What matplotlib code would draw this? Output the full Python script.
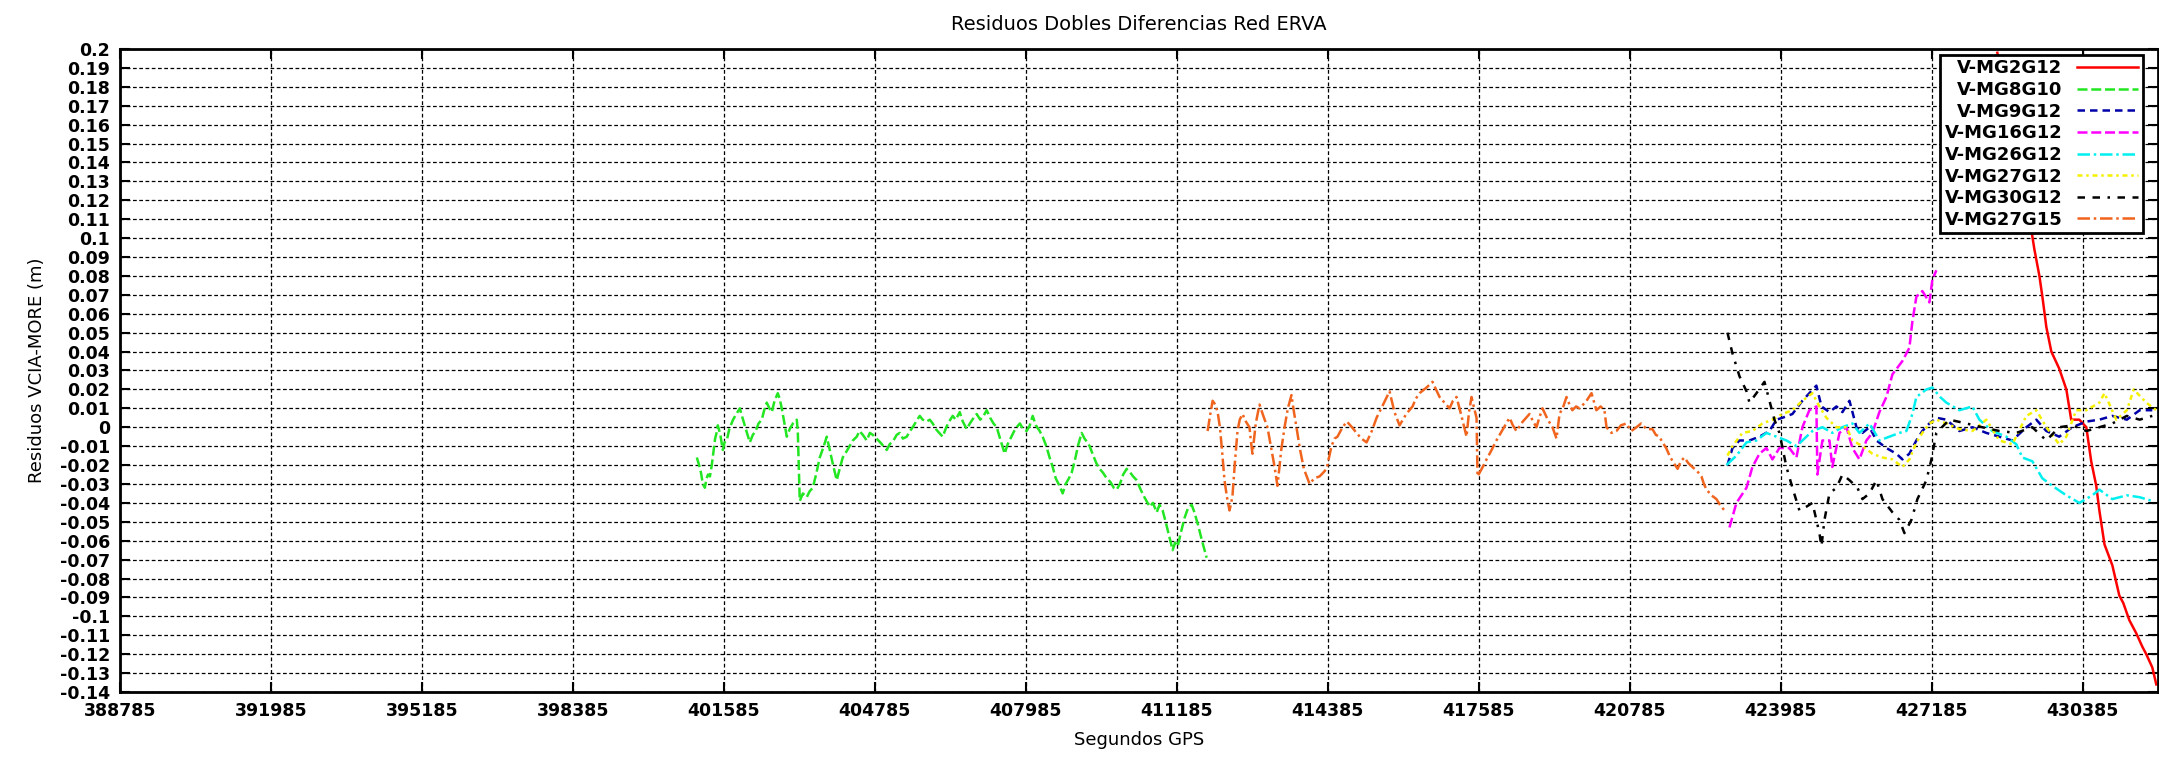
import matplotlib
matplotlib.use("Agg")
import matplotlib.pyplot as plt
import numpy as np

plt.rcParams['font.family'] = 'DejaVu Sans'

# residuos de dobles diferencias (segundos GPS, metros)
t_mg2g12 = [428580, 428686, 428831, 428900, 428982, 429109, 429258, 429365, 429471, 429540,
            429618, 429724, 429891, 430042, 430145, 430317, 430466, 430569, 430676, 430742,
            430851, 431017, 431165, 431250, 431377, 431525, 431652, 431736, 431864, 431949]
r_mg2g12 = [0.198, 0.180, 0.160, 0.145, 0.131, 0.118, 0.111, 0.094, 0.080, 0.068,
            0.053, 0.040, 0.031, 0.020, 0.004, 0.004, 0.000, -0.018, -0.031, -0.044,
            -0.062, -0.073, -0.089, -0.093, -0.102, -0.109, -0.116, -0.120, -0.127, -0.136]

t_mg8g10 = [401012, 401060, 401100, 401140, 401181, 401220, 401250, 401290, 401329, 401370,
            401400, 401430, 401457, 401510, 401563, 401600, 401647, 401700, 401780, 401850,
            401923, 401980, 402040, 402135, 402200, 402260, 402320, 402389, 402440, 402495,
            402550, 402601, 402660, 402728, 402770, 402820, 402870, 402919, 402980, 403050,
            403131, 403152, 403194, 403260, 403343, 403400, 403470, 403540, 403618, 403690,
            403766, 403830, 403900, 403978, 404040, 404105, 404180, 404250, 404320, 404402,
            404460, 404530, 404614, 404680, 404741, 404820, 404900, 404970, 405038, 405100,
            405180, 405250, 405313, 405380, 405462, 405530, 405589, 405660, 405737, 405800,
            405880, 405950, 406012, 406080, 406150, 406224, 406300, 406360, 406436, 406500,
            406585, 406650, 406733, 406800, 406880, 406945, 407020, 407090, 407157, 407230,
            407300, 407369, 407440, 407538, 407600, 407680, 407740, 407792, 407860, 407930,
            408004, 408070, 408131, 408200, 408280, 408343, 408420, 408490, 408555, 408620,
            408700, 408767, 408830, 408900, 408958, 409030, 409100, 409170, 409230, 409290,
            409339, 409400, 409480, 409551, 409620, 409700, 409780, 409850, 409911, 409980,
            410050, 410123, 410200, 410260, 410335, 410420, 410500, 410611, 410680, 410760,
            410820, 410886, 410950, 411030, 411098, 411150, 411204, 411280, 411350, 411420,
            411501, 411560, 411640, 411720, 411819]
r_mg8g10 = [-0.016, -0.020, -0.024, -0.030, -0.032, -0.027, -0.025, -0.026, -0.020, -0.012,
            -0.006, -0.003, 0.001, -0.004, -0.012, -0.008, -0.007, -0.001, 0.004, 0.007,
            0.010, 0.005, 0.000, -0.008, -0.004, -0.002, 0.002, 0.004, 0.009, 0.013,
            0.010, 0.008, 0.014, 0.018, 0.015, 0.009, 0.002, -0.005, -0.001, 0.002,
            0.004, -0.002, -0.039, -0.035, -0.037, -0.034, -0.032, -0.025, -0.016, -0.011,
            -0.005, -0.012, -0.020, -0.028, -0.022, -0.016, -0.013, -0.010, -0.007, -0.005,
            -0.002, -0.004, -0.007, -0.003, -0.004, -0.006, -0.008, -0.010, -0.012, -0.009,
            -0.007, -0.004, -0.003, -0.006, -0.005, -0.002, 0.000, 0.003, 0.006, 0.004,
            0.003, 0.004, 0.002, -0.001, -0.003, -0.005, 0.000, 0.003, 0.006, 0.004,
            0.008, 0.003, -0.001, 0.002, 0.005, 0.007, 0.004, 0.006, 0.009, 0.005,
            0.002, 0.000, -0.006, -0.014, -0.009, -0.005, -0.002, 0.000, 0.002, -0.001,
            -0.002, 0.001, 0.006, 0.001, -0.002, -0.005, -0.010, -0.016, -0.021, -0.027,
            -0.031, -0.035, -0.030, -0.027, -0.024, -0.017, -0.009, -0.003, -0.006, -0.008,
            -0.010, -0.014, -0.019, -0.022, -0.024, -0.027, -0.029, -0.032, -0.033, -0.030,
            -0.025, -0.022, -0.024, -0.026, -0.028, -0.033, -0.037, -0.042, -0.040, -0.045,
            -0.041, -0.044, -0.050, -0.058, -0.065, -0.061, -0.063, -0.055, -0.048, -0.043,
            -0.041, -0.045, -0.052, -0.060, -0.069]

t_mg9g12 = [422859, 422965, 423113, 423325, 423537, 423749, 423897, 424025, 424236, 424447,
            424595, 424744, 424851, 425021, 425169, 425296, 425445, 425593, 425720, 425869,
            426017, 426228, 426439, 426567, 426715, 426863, 426990, 427139, 427287, 427499,
            427775, 428050, 428346, 428622, 428898, 429194, 429406, 429618, 429891, 430169,
            430466, 430742, 431017, 431325, 431596, 431864]
r_mg9g12 = [-0.020, -0.011, -0.007, -0.007, -0.005, -0.002, 0.004, 0.005, 0.007, 0.014,
            0.018, 0.022, 0.011, 0.008, 0.011, 0.008, 0.014, 0.000, -0.003, 0.000,
            -0.007, -0.011, -0.014, -0.017, -0.014, -0.007, -0.002, 0.002, 0.005, 0.004,
            -0.002, 0.000, -0.003, -0.005, -0.007, 0.000, 0.004, -0.002, -0.005, 0.000,
            0.003, 0.004, 0.006, 0.004, 0.009, 0.009]

t_mg16g12 = [422901, 423049, 423262, 423388, 423537, 423685, 423812, 423960, 424170, 424320,
             424447, 424595, 424744, 424765, 424871, 425021, 425081, 425233, 425382, 425507,
             425656, 425804, 425931, 426079, 426228, 426356, 426567, 426715, 426779, 426863,
             426990, 427139, 427202, 427287]
r_mg16g12 = [-0.053, -0.040, -0.032, -0.021, -0.014, -0.011, -0.017, -0.011, -0.011, -0.016,
             0.000, 0.009, 0.011, -0.025, -0.007, -0.007, -0.021, -0.003, 0.000, -0.011,
             -0.017, -0.007, -0.003, 0.008, 0.016, 0.028, 0.035, 0.042, 0.056, 0.069,
             0.072, 0.066, 0.078, 0.083]

t_mg26g12 = [422838, 423049, 423262, 423473, 423685, 423897, 424109, 424320, 424447, 424660,
             424871, 425081, 425296, 425507, 425656, 425869, 426079, 426291, 426504, 426652,
             426779, 426863, 427076, 427202, 427366, 427499, 427775, 428050, 428199, 428471,
             428771, 428982, 429109, 429321, 429533, 429745, 430042, 430317, 430593, 430742,
             431017, 431325, 431596, 431864]
r_mg26g12 = [-0.020, -0.015, -0.008, -0.007, -0.003, -0.005, -0.007, -0.010, -0.007, -0.002,
             0.000, -0.003, 0.000, 0.002, -0.003, 0.002, -0.007, -0.005, -0.003, -0.002,
             0.007, 0.016, 0.020, 0.021, 0.016, 0.013, 0.009, 0.011, 0.004, -0.002,
             -0.005, -0.009, -0.016, -0.018, -0.027, -0.031, -0.036, -0.040, -0.036, -0.033,
             -0.038, -0.036, -0.037, -0.039]

t_mg27g12 = [422859, 422965, 423176, 423388, 423600, 423812, 424025, 424236, 424447, 424660,
             424808, 424956, 425169, 425382, 425507, 425720, 425931, 426144, 426356, 426567,
             426715, 426863, 426990, 427139, 427287, 427499, 427775, 428050, 428346, 428622,
             428898, 429194, 429406, 429618, 429891, 430042, 430251, 430466, 430742, 430851,
             431101, 431325, 431471, 431736, 431949]
r_mg27g12 = [-0.015, -0.010, -0.003, -0.002, 0.002, 0.004, 0.007, 0.009, 0.014, 0.018,
             0.011, 0.005, 0.000, 0.000, -0.007, -0.010, -0.014, -0.016, -0.017, -0.021,
             -0.017, -0.008, -0.003, 0.002, 0.004, 0.002, -0.001, -0.002, 0.004, -0.007,
             -0.009, 0.006, 0.009, 0.000, -0.009, -0.005, 0.009, 0.009, 0.013, 0.018,
             0.004, 0.009, 0.020, 0.013, 0.009]

t_mg30g12 = [422859, 422965, 423113, 423262, 423325, 423473, 423643, 423749, 423854, 423960,
             424109, 424236, 424384, 424533, 424660, 424808, 424851, 424915, 425021, 425169,
             425296, 425445, 425614, 425720, 425869, 426017, 426144, 426356, 426504, 426610,
             426758, 426885, 427076, 427182, 427287, 427563, 427922, 428259, 428622, 428982,
             429321, 429618, 429891, 430169, 430466, 430742, 431017, 431325, 431596, 431864]
r_mg30g12 = [0.050, 0.039, 0.027, 0.019, 0.013, 0.018, 0.024, 0.014, 0.004, -0.003,
             -0.021, -0.032, -0.044, -0.042, -0.040, -0.056, -0.063, -0.049, -0.035, -0.032,
             -0.025, -0.028, -0.032, -0.038, -0.035, -0.028, -0.038, -0.045, -0.049, -0.056,
             -0.049, -0.038, -0.028, -0.017, -0.003, 0.004, 0.002, 0.000, -0.002, -0.003,
             0.000, -0.007, 0.000, 0.001, -0.002, 0.000, 0.002, 0.006, 0.004, 0.006]

t_mg27g15 = [411840, 411890, 411946, 412000, 412052, 412100, 412137, 412170, 412197, 412250,
             412303, 412340, 412367, 412420, 412473, 412520, 412579, 412650, 412727, 412760,
             412790, 412860, 412939, 413020, 413108, 413180, 413259, 413290, 413320, 413400,
             413471, 413540, 413617, 413670, 413723, 413800, 413880, 414001, 414100, 414213,
             414290, 414362, 414465, 414530, 414592, 414700, 414792, 414900, 414995, 415100,
             415209, 415320, 415421, 415560, 415696, 415800, 415908, 416050, 416184, 416250,
             416332, 416480, 416607, 416680, 416756, 416860, 416968, 417040, 417116, 417220,
             417328, 417380, 417434, 417480, 417540, 417561, 417650, 417752, 417860, 417961,
             418100, 418239, 418310, 418385, 418520, 418663, 418740, 418811, 418870, 418938,
             419050, 419150, 419235, 419299, 419380, 419447, 419510, 419571, 419650, 419722,
             419800, 419872, 419977, 420080, 420170, 420251, 420295, 420400, 420506, 420600,
             420715, 420820, 420930, 421030, 421142, 421269, 421340, 421415, 421482, 421560,
             421630, 421720, 421803, 421870, 421945, 422030, 422114, 422210, 422307, 422360,
             422415, 422520, 422625, 422700, 422795]
r_mg27g15 = [-0.002, 0.006, 0.014, 0.012, 0.008, 0.000, -0.010, -0.020, -0.028, -0.037,
             -0.044, -0.040, -0.036, -0.018, -0.002, 0.004, 0.007, 0.003, 0.000, -0.008,
             -0.014, 0.002, 0.012, 0.006, 0.000, -0.010, -0.021, -0.026, -0.031, -0.012,
             0.000, 0.010, 0.017, 0.008, 0.000, -0.012, -0.022, -0.030, -0.027, -0.026,
             -0.024, -0.022, -0.010, -0.006, -0.005, 0.000, 0.003, 0.000, -0.003, -0.006,
             -0.008, -0.002, 0.005, 0.012, 0.019, 0.008, 0.001, 0.007, 0.011, 0.015,
             0.018, 0.021, 0.024, 0.020, 0.016, 0.013, 0.010, 0.014, 0.016, 0.006,
             -0.005, 0.008, 0.016, 0.011, 0.005, -0.026, -0.022, -0.017, -0.012, -0.007,
             -0.001, 0.005, 0.001, -0.002, 0.003, 0.007, 0.003, 0.000, 0.005, 0.010,
             0.004, 0.000, -0.006, 0.007, 0.011, 0.016, 0.012, 0.009, 0.011, 0.010,
             0.012, 0.014, 0.018, 0.009, 0.011, 0.009, 0.000, -0.003, -0.002, 0.001,
             0.002, -0.002, 0.000, 0.002, -0.001, -0.001, -0.004, -0.005, -0.008, -0.011,
             -0.015, -0.019, -0.022, -0.018, -0.016, -0.019, -0.021, -0.023, -0.026, -0.030,
             -0.033, -0.036, -0.038, -0.041, -0.044]

series = [
    ('V-MG2G12', t_mg2g12, r_mg2g12, '#ff0000', None),
    ('V-MG8G10', t_mg8g10, r_mg8g10, '#22e622', (4, 1.5)),
    ('V-MG9G12', t_mg9g12, r_mg9g12, '#0000a8', (3, 2)),
    ('V-MG16G12', t_mg16g12, r_mg16g12, '#ff00ff', (4, 1.5)),
    ('V-MG26G12', t_mg26g12, r_mg26g12, '#00f0f0', (5, 1.5, 1, 1.5)),
    ('V-MG27G12', t_mg27g12, r_mg27g12, '#f5f000', (2, 1.5, 1, 1.5)),
    ('V-MG30G12', t_mg30g12, r_mg30g12, '#000000', (3, 3, 3, 3, 1, 3)),
    ('V-MG27G15', t_mg27g15, r_mg27g15, '#f0641e', (5, 1.5, 1, 1.5)),
]

x_ticks = np.arange(388785, 431986, 3200)
y_ticks = np.round(np.arange(-0.14, 0.2001, 0.01), 2)

fig = plt.figure(figsize=(21.59, 7.61), dpi=100)
ax = fig.add_axes([120 / 2159, 1 - 692 / 761, 2038 / 2159, 643 / 761])

for label, t, r, color, dash in series:
    line, = ax.plot(t, r, color=color, lw=1.8, label=label)
    if dash is not None:
        line.set_dashes(dash)

ax.set_xlim(388785, 431985)
ax.set_ylim(-0.14, 0.2)
ax.set_xticks(x_ticks)
ax.set_xticklabels([str(v) for v in x_ticks], fontweight='bold')
ax.set_yticks(y_ticks)
ax.set_yticklabels(['%g' % v for v in y_ticks], fontweight='bold')
ax.tick_params(direction='in', length=7, width=1.5, top=True, right=True,
               labelsize=12.5, pad=7)

ax.grid(True, color='black', lw=0.9, linestyle=(0, (3, 2)))
for s in ax.spines.values():
    s.set_linewidth(2)

ax.set_title('Residuos Dobles Diferencias Red ERVA', fontsize=14, pad=14)
ax.set_xlabel('Segundos GPS', fontsize=13, labelpad=8)
ax.set_ylabel('Residuos VCIA-MORE (m)', fontsize=13, labelpad=10)

leg = ax.legend(loc='upper right', bbox_to_anchor=(0.9926, 0.9907), markerfirst=False,
                prop={'weight': 'bold', 'size': 13}, handlelength=3.4, labelspacing=0.2,
                borderpad=0.25, handletextpad=0.8, borderaxespad=0, fancybox=False,
                framealpha=1, edgecolor='black')
leg.get_frame().set_linewidth(2)

fig.savefig('out.png', dpi=100)
